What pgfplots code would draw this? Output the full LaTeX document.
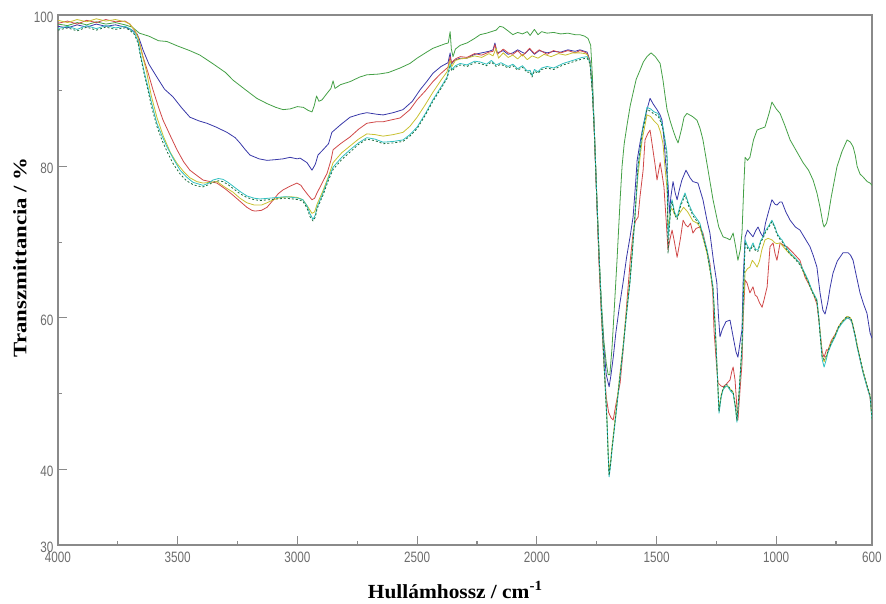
\documentclass[border=0pt]{standalone}
\usepackage{fontspec}
\setmainfont{Liberation Serif}
\newfontfamily\tickfont[FakeStretch=0.78]{Liberation Sans}
\newfontfamily\ylabfont[FakeStretch=1.2]{Liberation Serif}
\newfontfamily\xlabfont[FakeStretch=1.07]{Liberation Serif}
\usepackage{pgfplots}
\usepackage{pgfplotstable}
\pgfplotsset{compat=1.18}
\definecolor{cG}{HTML}{44A046}
\definecolor{cB}{HTML}{3838A8}
\definecolor{cR}{HTML}{D04848}
\definecolor{cY}{HTML}{C8C030}
\definecolor{cC}{HTML}{30C0C0}
\definecolor{cD}{HTML}{1E6E3E}
\definecolor{axgray}{HTML}{8A8A8A}

\pgfplotstableread{
w T
4000 98.8
3960 98.6
3920 99.0
3880 98.7
3840 99.1
3800 98.8
3760 99.0
3720 98.7
3690 98.4
3660 97.6
3620 97.2
3580 96.6
3545 96.5
3500 95.9
3450 95.3
3407 94.7
3350 93.5
3300 92.4
3269 91.4
3220 90.2
3170 89.0
3127 88.3
3090 87.8
3060 87.5
3030 87.6
3000 87.9
2975 87.8
2955 87.4
2939 87.2
2930 88.0
2920 89.3
2910 88.6
2897 88.8
2880 89.5
2860 90.3
2851 91.3
2843 90.3
2820 90.8
2780 91.2
2740 91.8
2710 92.1
2660 92.2
2620 92.4
2571 93.0
2530 93.6
2500 94.3
2460 95.1
2434 95.6
2400 96.0
2383 96.2
2370 96.3
2362 97.8
2357 95.5
2350 94.5
2340 95.5
2320 96.0
2292 96.3
2260 96.9
2237 97.4
2210 97.6
2190 97.8
2170 98.0
2155 98.5
2141 98.4
2120 97.9
2100 97.4
2080 97.7
2060 97.5
2040 97.8
2028 97.3
2010 98.1
1995 97.4
1980 97.8
1957 97.6
1930 97.7
1900 97.5
1870 97.6
1840 97.4
1820 97.4
1800 97.2
1786 96.9
1775 96.0
1768 92.0
1760 85.0
1750 76.0
1740 68.0
1730 62.0
1720 57.0
1710 54.0
1702 52.5
1695 52.5
1686 56.0
1675 62.0
1665 67.6
1652 75.6
1644 80.0
1635 83.0
1623 85.5
1610 88.0
1598 89.7
1585 91.5
1569 92.7
1555 93.8
1540 94.5
1523 95.0
1505 94.5
1485 93.6
1473 91.4
1465 89.5
1456 87.5
1443 86.0
1431 84.8
1420 83.8
1410 83.1
1395 85.0
1385 86.5
1373 87.0
1350 86.6
1331 86.1
1318 85.0
1306 83.5
1290 80.5
1264 75.6
1240 72.0
1222 70.7
1205 70.5
1193 70.3
1180 71.2
1170 69.5
1160 67.6
1150 69.0
1143 71.2
1136 77.0
1130 81.2
1120 80.8
1110 81.2
1095 83.5
1080 84.8
1065 85.0
1047 85.2
1030 87.0
1018 88.5
1000 87.6
984 87.0
965 85.5
942 83.5
915 82.0
888 80.5
865 79.5
846 78.2
830 76.5
817 74.6
805 72.5
800 72.0
790 72.5
784 73.3
770 76.0
755 78.5
746 80.0
725 82.0
704 83.5
690 83.2
679 82.6
670 81.5
662 80.0
650 79.0
637 78.6
620 78.0
608 77.8
600 77.5
}\dataG

\pgfplotstableread{
w T
4000 98.5
3960 98.3
3920 98.7
3880 98.4
3840 98.8
3800 98.5
3760 98.7
3720 98.4
3690 98.0
3670 97.5
3660 96.8
3645 95.4
3620 93.5
3587 91.8
3555 90.2
3520 89.2
3485 87.8
3449 86.5
3410 86.0
3378 85.7
3340 85.2
3294 84.5
3260 83.8
3240 83.1
3220 82.3
3198 81.5
3160 81.0
3127 80.8
3090 80.9
3060 81.0
3031 81.2
3000 81.0
2989 81.1
2960 80.5
2939 79.5
2925 80.3
2914 81.5
2890 82.3
2870 83.0
2856 84.5
2820 85.5
2780 86.5
2740 86.9
2710 87.1
2670 86.9
2642 86.8
2600 87.1
2559 87.5
2520 88.6
2488 90.1
2460 91.2
2434 92.3
2400 93.2
2371 93.7
2362 95.0
2357 93.5
2345 94.0
2320 94.3
2292 94.3
2260 94.8
2230 95.0
2200 95.2
2183 95.4
2175 96.3
2165 95.0
2140 95.3
2120 94.8
2100 95.0
2080 95.4
2050 94.9
2030 95.5
2010 94.8
1990 95.3
1957 95.0
1930 95.2
1900 95.1
1870 95.4
1840 95.2
1820 95.4
1800 95.2
1790 95.1
1778 94.0
1768 90.5
1760 85.0
1750 76.0
1740 68.0
1730 61.0
1720 56.0
1710 52.5
1698 50.9
1690 52.5
1680 55.0
1670 58.0
1655 61.5
1640 64.6
1625 68.0
1610 70.8
1598 73.3
1588 77.5
1581 80.8
1569 83.1
1555 85.5
1540 87.5
1527 89.0
1515 88.3
1498 87.5
1485 86.8
1477 86.1
1470 84.0
1462 80.5
1452 77.8
1446 73.8
1440 76.0
1431 78.0
1422 76.5
1414 75.6
1404 77.0
1394 78.2
1377 79.5
1360 78.5
1348 78.0
1327 77.8
1306 75.6
1290 73.0
1277 71.2
1262 67.5
1248 64.6
1242 60.6
1235 57.5
1225 58.5
1210 59.5
1193 59.7
1180 57.5
1168 55.5
1160 54.8
1150 57.0
1143 58.4
1138 65.0
1130 70.7
1120 71.6
1110 71.2
1097 70.7
1086 71.5
1076 72.0
1065 71.2
1055 70.7
1045 72.5
1034 73.8
1018 75.6
1005 75.0
997 74.9
985 75.3
976 75.3
960 74.0
942 72.9
920 72.0
901 71.6
880 70.5
859 69.4
845 68.2
830 66.7
817 63.3
805 61.0
796 60.5
785 62.0
775 64.0
763 65.9
745 67.5
721 68.6
700 68.6
690 68.3
679 67.6
665 65.5
650 63.3
635 61.8
621 60.6
608 58.0
600 57.3
}\dataB

\pgfplotstableread{
w T
4000 98.9
3960 99.2
3920 98.8
3880 99.3
3840 99.0
3800 99.4
3760 99.1
3720 99.2
3700 98.8
3680 98.0
3665 97.0
3645 94.5
3625 92.5
3603 90.1
3580 87.8
3561 86.1
3530 84.0
3503 82.2
3475 80.6
3449 79.5
3420 78.8
3394 78.2
3365 78.0
3336 77.8
3300 77.0
3269 76.2
3240 75.4
3211 74.6
3190 74.2
3177 74.1
3150 74.2
3127 74.6
3100 75.6
3080 76.4
3060 76.9
3030 77.4
3002 77.8
2985 77.5
2977 77.1
2955 76.2
2939 75.6
2928 75.8
2918 76.5
2900 77.6
2876 79.1
2860 80.8
2851 82.2
2820 83.0
2780 83.9
2745 84.9
2710 85.7
2670 85.9
2642 85.9
2600 86.2
2571 86.4
2530 87.5
2500 88.8
2465 90.0
2434 91.2
2400 92.3
2371 93.1
2362 94.5
2356 93.7
2340 94.2
2320 94.5
2292 94.4
2260 94.9
2230 94.7
2200 95.1
2183 95.2
2175 96.1
2165 94.8
2140 95.5
2120 95.0
2100 94.8
2080 95.3
2060 94.6
2030 95.6
2010 94.9
1990 95.4
1957 94.8
1930 95.3
1900 95.0
1870 95.3
1840 95.0
1820 95.3
1800 95.1
1790 94.9
1778 93.8
1768 90.0
1760 84.5
1750 76.0
1740 67.0
1730 60.0
1720 54.0
1710 49.5
1700 47.5
1690 46.8
1681 46.5
1670 48.5
1652 51.4
1640 55.5
1623 62.4
1610 67.5
1598 71.2
1588 72.8
1577 73.3
1569 76.0
1556 79.5
1548 83.5
1537 84.3
1527 84.8
1515 82.2
1505 80.0
1498 78.2
1485 80.5
1477 79.0
1469 77.3
1460 73.0
1452 69.0
1443 70.5
1435 71.6
1425 70.0
1414 68.0
1400 70.5
1389 72.9
1379 72.3
1369 72.0
1358 72.5
1348 71.2
1335 71.8
1320 72.0
1306 71.2
1290 69.0
1277 67.2
1265 63.3
1260 58.4
1250 54.0
1243 51.4
1230 51.0
1222 50.9
1210 51.2
1193 51.8
1185 53.0
1180 53.5
1172 51.8
1164 48.0
1160 46.5
1150 51.0
1143 54.0
1138 60.0
1130 65.0
1122 64.6
1110 63.3
1097 64.1
1088 63.0
1080 62.8
1070 62.0
1059 61.4
1050 62.5
1038 64.1
1026 69.4
1013 69.9
1005 68.5
997 67.6
990 68.8
984 69.9
970 69.6
955 69.4
930 68.6
901 67.6
880 65.4
860 64.2
845 63.2
830 61.8
817 58.3
808 55.5
800 54.8
790 55.8
784 55.7
770 57.0
754 57.8
740 58.8
725 59.5
704 60.0
690 59.8
683 59.3
670 57.5
662 56.3
650 54.5
637 52.8
620 50.8
608 49.5
600 46.8
}\dataR

\pgfplotstableread{
w T
4000 99.3
3960 99.0
3920 99.4
3880 99.1
3840 99.5
3800 99.2
3760 99.4
3720 99.1
3700 98.8
3680 98.0
3665 97.0
3650 95.0
3630 92.5
3610 89.3
3587 86.5
3560 84.0
3530 81.8
3503 80.4
3475 79.3
3449 78.5
3420 78.0
3394 77.8
3365 77.9
3336 78.0
3300 77.2
3269 76.6
3240 75.8
3211 75.2
3180 74.9
3150 74.9
3127 75.2
3100 75.6
3070 75.9
3030 76.0
3000 75.9
2977 75.6
2955 74.6
2939 73.8
2928 74.0
2918 75.0
2893 76.8
2870 78.7
2851 80.5
2815 81.8
2780 82.7
2745 83.6
2710 84.3
2675 84.2
2642 84.0
2600 84.2
2559 84.5
2530 85.3
2500 86.5
2465 88.2
2434 89.8
2400 91.4
2375 92.5
2362 94.0
2355 93.2
2340 94.0
2320 94.2
2292 94.3
2260 94.6
2230 94.4
2200 94.9
2183 94.6
2170 95.6
2160 94.3
2140 95.0
2120 94.4
2100 94.7
2080 94.2
2060 94.8
2040 94.1
2020 94.6
1995 94.3
1970 94.8
1940 94.5
1910 94.9
1880 94.7
1850 95.0
1820 95.0
1800 94.9
1790 94.8
1778 93.8
1768 90.0
1760 85.0
1750 76.5
1740 68.5
1730 61.0
1722 56.0
1715 51.5
1707 46.8
1702 42.5
1698 39.6
1692 41.0
1686 43.0
1670 47.5
1655 52.0
1640 56.2
1625 61.0
1611 65.0
1600 69.5
1590 73.5
1577 79.0
1560 83.5
1540 86.8
1525 86.6
1510 86.0
1494 85.5
1483 84.5
1473 83.0
1465 80.0
1456 77.0
1452 72.0
1446 73.0
1440 74.5
1431 74.2
1422 73.5
1414 73.3
1400 74.0
1387 74.6
1370 74.0
1348 72.8
1330 72.5
1319 72.0
1305 70.5
1289 68.5
1276 66.2
1264 63.8
1255 58.8
1248 54.0
1239 47.8
1230 49.8
1222 50.6
1210 51.0
1202 51.0
1190 50.5
1180 50.2
1170 48.2
1164 46.5
1155 50.2
1143 56.0
1138 61.0
1130 66.0
1120 66.5
1110 66.7
1100 67.6
1090 67.2
1080 66.7
1070 67.5
1060 69.0
1047 70.3
1034 70.5
1018 70.3
1005 69.9
997 69.8
985 69.9
976 69.6
960 69.0
942 68.4
920 67.8
901 67.2
885 66.0
867 64.8
850 63.5
830 62.2
822 60.0
817 58.2
808 55.0
800 54.2
790 55.0
784 55.6
770 56.8
754 57.7
740 58.8
725 59.5
704 60.2
690 60.0
683 59.5
670 57.7
662 56.4
650 54.7
637 52.9
620 51.0
608 49.7
600 46.6
}\dataY

\pgfplotstableread{
w T
4000 98.2
3960 98.5
3920 98.1
3880 98.6
3840 98.2
3800 98.6
3760 98.3
3720 98.5
3700 98.2
3680 97.6
3665 96.5
3657 95.0
3640 92.5
3628 91.0
3610 88.5
3587 85.7
3565 84.0
3545 82.6
3518 81.0
3490 79.5
3463 78.6
3436 77.9
3415 77.7
3394 77.5
3370 77.8
3353 78.2
3330 78.4
3311 78.3
3290 77.9
3269 77.4
3240 76.7
3211 76.1
3180 75.8
3156 75.7
3120 75.8
3085 75.9
3050 76.0
3018 75.9
2995 75.8
2977 75.6
2960 74.8
2948 73.8
2935 73.0
2925 73.6
2918 74.6
2893 76.5
2870 78.5
2851 79.9
2815 81.2
2780 82.2
2745 83.1
2710 83.8
2675 83.6
2642 83.2
2600 83.3
2559 83.5
2530 84.2
2500 85.2
2465 87.0
2434 88.8
2400 90.5
2375 91.8
2362 93.5
2355 92.8
2340 93.3
2320 93.6
2292 93.4
2260 93.9
2237 93.8
2210 93.5
2190 94.0
2170 93.4
2150 93.7
2120 93.2
2100 93.5
2080 92.9
2060 93.3
2040 92.6
2028 92.7
2020 92.0
2010 92.8
1995 92.5
1980 93.0
1957 93.2
1930 93.0
1890 93.6
1860 93.9
1830 94.2
1810 94.4
1790 94.5
1778 93.8
1768 90.0
1760 85.0
1750 76.5
1740 68.5
1730 61.0
1722 56.0
1715 51.5
1707 46.5
1702 42.0
1698 39.0
1692 40.5
1686 42.5
1670 47.0
1655 51.5
1640 55.8
1625 60.5
1611 64.6
1600 69.0
1590 73.3
1577 80.0
1560 84.5
1540 87.8
1525 87.6
1510 87.2
1494 87.0
1483 86.2
1473 85.2
1465 83.6
1456 81.8
1452 70.5
1446 72.5
1440 75.0
1435 75.6
1425 74.0
1414 73.3
1400 75.0
1381 76.5
1365 75.0
1348 73.8
1330 73.0
1319 72.5
1305 70.8
1289 69.0
1276 66.5
1264 64.1
1255 59.0
1248 54.0
1239 47.4
1230 49.5
1222 50.5
1210 51.0
1202 50.9
1190 50.3
1180 50.0
1170 48.0
1164 46.2
1155 50.0
1143 56.1
1138 62.0
1130 70.3
1120 69.5
1110 69.0
1097 69.9
1086 69.0
1076 69.0
1065 70.2
1055 70.7
1045 71.5
1034 72.0
1018 72.9
1005 72.0
997 71.2
985 70.6
976 70.3
960 69.4
942 68.6
920 67.9
901 67.2
885 66.2
867 65.0
850 63.6
830 62.4
822 60.0
817 58.0
808 54.5
800 53.5
790 54.6
784 55.4
770 56.5
754 57.5
740 58.6
725 59.3
704 60.0
690 59.8
683 59.3
670 57.5
662 56.1
650 54.5
637 52.7
620 50.8
608 49.6
600 46.5
}\dataC

\pgfplotstableread{
w T
4000 98.0
3960 98.3
3920 97.9
3880 98.4
3840 98.0
3800 98.4
3760 98.1
3720 98.3
3700 98.0
3680 97.4
3665 96.2
3657 94.8
3640 92.2
3628 90.6
3610 88.0
3587 85.3
3565 83.4
3545 82.0
3518 80.3
3490 79.0
3463 78.1
3436 77.6
3415 77.4
3394 77.3
3370 77.6
3353 77.9
3330 78.1
3311 78.0
3290 77.6
3269 77.1
3240 76.4
3211 75.9
3180 75.6
3156 75.5
3120 75.6
3085 75.7
3050 75.8
3018 75.7
2995 75.6
2977 75.4
2960 74.5
2948 73.4
2935 72.8
2925 73.3
2918 74.4
2893 76.2
2870 78.2
2851 79.6
2815 80.9
2780 81.9
2745 82.9
2710 83.6
2675 83.4
2642 83.0
2600 83.1
2559 83.3
2530 84.0
2500 85.0
2465 86.8
2434 88.6
2400 90.3
2375 91.6
2362 93.2
2355 92.6
2340 93.1
2320 93.4
2292 93.2
2260 93.7
2237 93.6
2210 93.3
2190 93.8
2170 93.2
2150 93.5
2120 93.0
2100 93.3
2080 92.7
2060 93.1
2040 92.4
2028 92.5
2020 91.8
2010 92.6
1995 92.3
1980 92.8
1957 93.0
1930 92.8
1890 93.4
1860 93.7
1830 94.0
1810 94.2
1790 94.3
1778 93.6
1768 89.8
1760 84.7
1750 76.2
1740 68.2
1730 60.8
1722 55.8
1715 51.2
1707 46.2
1702 41.8
1698 39.2
1692 40.7
1686 42.7
1670 47.2
1655 51.7
1640 56.0
1625 60.7
1611 64.8
1600 69.2
1590 73.5
1577 80.2
1560 84.3
1540 87.5
1525 87.3
1510 86.9
1494 86.7
1483 85.9
1473 84.9
1465 83.3
1456 81.0
1452 68.5
1446 72.0
1440 74.7
1435 75.3
1425 73.7
1414 73.0
1400 74.7
1381 76.2
1365 74.7
1348 73.5
1330 72.7
1319 72.2
1305 70.5
1289 68.7
1276 66.2
1264 63.8
1255 58.7
1248 53.7
1239 47.6
1230 49.7
1222 50.7
1210 51.2
1202 51.1
1190 50.5
1180 50.2
1170 48.2
1164 46.4
1155 50.2
1143 56.3
1138 62.2
1130 70.0
1120 69.2
1110 68.8
1097 69.6
1086 68.8
1076 68.8
1065 70.0
1055 70.5
1045 71.3
1034 71.8
1018 72.7
1005 71.8
997 71.0
985 70.4
976 70.1
960 69.2
942 68.4
920 67.7
901 67.0
885 66.0
867 64.8
850 63.4
830 62.2
822 59.8
817 57.8
808 54.8
800 54.5
790 55.0
784 55.6
770 56.7
754 57.7
740 58.8
725 59.5
704 60.2
690 60.0
683 59.5
670 57.7
662 56.3
650 54.7
637 52.9
620 51.0
608 49.8
600 46.7
}\dataD

\begin{document}
\begin{tikzpicture}
\useasboundingbox (-58bp,-59bp) rectangle (828bp,545bp);
\begin{axis}[
  at={(0,0)}, anchor=south west,
  scale only axis,
  width=814bp, height=530bp,
  x dir=reverse,
  xmin=600, xmax=4000, ymin=30, ymax=100,
  xtick={4000,3500,3000,2500,2000,1500,1000,600},
  minor xtick={3750,3250,2750,2250,1750,1250,750},
  ytick={30,40,60,80,100},
  minor ytick={50,70,90},
  xtick pos=bottom, ytick pos=left,
  tick align=inside,
  major tick length=9bp, minor tick length=4bp,
  every tick/.style={axgray, line width=1.2bp},
  axis line style={axgray, line width=1.4bp},
  /pgf/number format/.cd, set thousands separator={}, assume math mode=true,
  /pgfplots/.cd,
  tick label style={font=\tickfont\fontsize{15bp}{15bp}\selectfont, text=gray!85!black},
  xticklabel style={yshift=-4bp},
  yticklabel style={xshift=-1bp, yshift=-2bp},
  xlabel={\xlabfont\bfseries Hullámhossz / cm\textsuperscript{-1}},
  xlabel style={at={(axis description cs:0.488,-0.085)}, anchor=center, font=\fontsize{20bp}{20bp}\selectfont},
  ylabel={\ylabfont\bfseries Transzmittancia / \%},
  ylabel style={at={(axis description cs:-0.0467,0.543)}, anchor=center, rotate=0, font=\fontsize{19bp}{19bp}\selectfont},
  every axis plot/.append style={line width=0.8bp, line join=round},
  clip=true,
]
\addplot[cG] table[x=w,y=T] {\dataG};
\addplot[cB] table[x=w,y=T] {\dataB};
\addplot[cR] table[x=w,y=T] {\dataR};
\addplot[cY] table[x=w,y=T] {\dataY};
\addplot[cC] table[x=w,y=T] {\dataC};
\addplot[cD, dash pattern=on 2bp off 2bp] table[x=w,y=T] {\dataD};
\end{axis}
\end{tikzpicture}
\end{document}
